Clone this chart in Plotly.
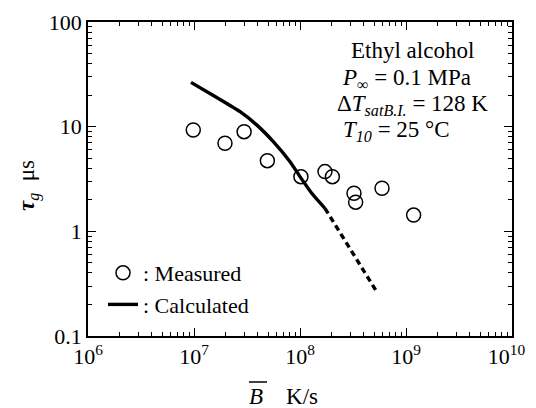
import plotly.graph_objects as go

# Measured data
meas_B = [9.84e6, 1.96e7, 2.97e7, 4.92e7, 1.02e8, 1.72e8, 2.02e8, 3.23e8, 3.35e8, 5.94e8, 1.18e9]
meas_tau = [9.3, 6.94, 8.96, 4.73, 3.33, 3.72, 3.33, 2.31, 1.90, 2.58, 1.43]

# Calculated (solid part)
calc_B = [9.37e6, 1.58e7, 2.72e7, 3.9e7, 5.6e7, 8.05e7, 1.0e8, 1.29e8, 1.72e8]
calc_tau = [26.5, 19.4, 13.9, 10.4, 7.19, 4.63, 3.33, 2.31, 1.66]

# Calculated (dashed extrapolation)
ext_B = [1.72e8, 3.03e8, 5.21e8]
ext_tau = [1.66, 0.664, 0.272]

x_major = [1e6, 1e7, 1e8, 1e9, 1e10]
x_labels = ["10<sup>6</sup>", "10<sup>7</sup>", "10<sup>8</sup>", "10<sup>9</sup>",
            "10<sup>10</sup>\u00a0\u00a0"]
y_major = [0.1, 1, 10, 100]
y_labels = ["0.1", "1", "10", "100"]

FONT = "Liberation Serif"

x_minor = [m * 10 ** e for e in range(6, 10) for m in range(2, 10)]
y_minor = [m * 10 ** e for e in range(-1, 2) for m in range(2, 10)]

fig = go.Figure()
fig.add_trace(go.Scatter(
    x=calc_B, y=calc_tau, mode="lines",
    line=dict(color="black", width=3.4, shape="spline", smoothing=0.6),
    name=": Calculated", showlegend=True,
))
fig.add_trace(go.Scatter(
    x=ext_B, y=ext_tau, mode="lines",
    line=dict(color="black", width=3.4, dash="6px,4px"),
    showlegend=False,
))
fig.add_trace(go.Scatter(
    x=meas_B, y=meas_tau, mode="markers",
    marker=dict(symbol="circle-open", size=14, color="black", line=dict(width=1.5, color="black")),
    name=": Measured", showlegend=True,
))

axis_common = dict(
    type="log", showline=True, linecolor="black", linewidth=1.5, mirror="ticks",
    ticks="inside", ticklen=8, tickwidth=1.3, tickcolor="black",
    showgrid=False, zeroline=False, automargin=False, ticklabeloverflow="allow",
    tickfont=dict(family=FONT, size=22, color="black"),
)

fig.update_xaxes(
    range=[6, 10], tickmode="array", tickvals=x_major, ticktext=x_labels,
    minor=dict(ticks="inside", ticklen=4, tickwidth=1.1, tickcolor="black", tickvals=x_minor),
    **axis_common,
)
fig.update_yaxes(
    range=[-1, 2], tickmode="array", tickvals=y_major, ticktext=y_labels,
    minor=dict(ticks="inside", ticklen=4, tickwidth=1.1, tickcolor="black", tickvals=y_minor),
    **axis_common,
)

# Page is drawn with an 8px body margin, so figure is 8px smaller than the window
W, H = 528, 400
L, R, T, B = 80, 24, 14, 72
# plot area in screen pixels: x 88..512, y 22..336
SX0, SX1, SY0, SY1 = 88, 512, 22, 336


def px(xs):
    return (xs - SX0) / (SX1 - SX0)


def py(ys):
    return (SY1 - ys) / (SY1 - SY0)


annot_font = dict(family=FONT, size=23, color="black")
annotations = [
    dict(text="Ethyl alcohol", x=412, y=51),
    dict(text="<i>P</i><sub>∞</sub> = 0.1 MPa", x=340, y=79, xanchor="left"),
    dict(text="Δ<i>T</i><sub><i>satB.I.</i></sub> = 128 K", x=335, y=105, xanchor="left"),
    dict(text="<i>T</i><sub><i>10</i></sub> = 25 °C", x=341, y=131, xanchor="left"),
]
ann_list = []
for a in annotations:
    ann_list.append(dict(
        text=a["text"], xref="paper", yref="paper", x=px(a["x"]), y=py(a["y"]),
        xanchor=a.get("xanchor", "center"), yanchor="middle", showarrow=False, font=annot_font,
    ))

# Axis titles
ann_list.append(dict(
    text="<b><i>τ</i></b><sub><i>g</i></sub>  μs", xref="paper", yref="paper",
    x=px(28), y=py(186), xanchor="center", yanchor="middle", textangle=-90,
    showarrow=False, font=dict(family=FONT, size=23, color="black"),
))
ann_list.append(dict(
    text="<i>B</i>    K/s", xref="paper", yref="paper",
    x=px(283), y=py(396), xanchor="center", yanchor="middle",
    showarrow=False, font=dict(family=FONT, size=23, color="black"),
))

fig.update_layout(
    width=W, height=H,
    margin=dict(l=L, r=R, t=T, b=B, autoexpand=False),
    paper_bgcolor="white", plot_bgcolor="white",
    font=dict(family=FONT, size=22, color="black"),
    annotations=ann_list,
    shapes=[dict(type="line", xref="paper", yref="paper",
                 x0=px(249), x1=px(267), y0=py(382), y1=py(382),
                 line=dict(color="black", width=1.5))],
    legend=dict(
        x=px(103), y=py(252), xanchor="left", yanchor="top",
        bgcolor="rgba(0,0,0,0)", traceorder="reversed",
        font=dict(family=FONT, size=22, color="black"),
        itemwidth=30, tracegroupgap=0,
    ),
)

fig.write_html("out.html")
